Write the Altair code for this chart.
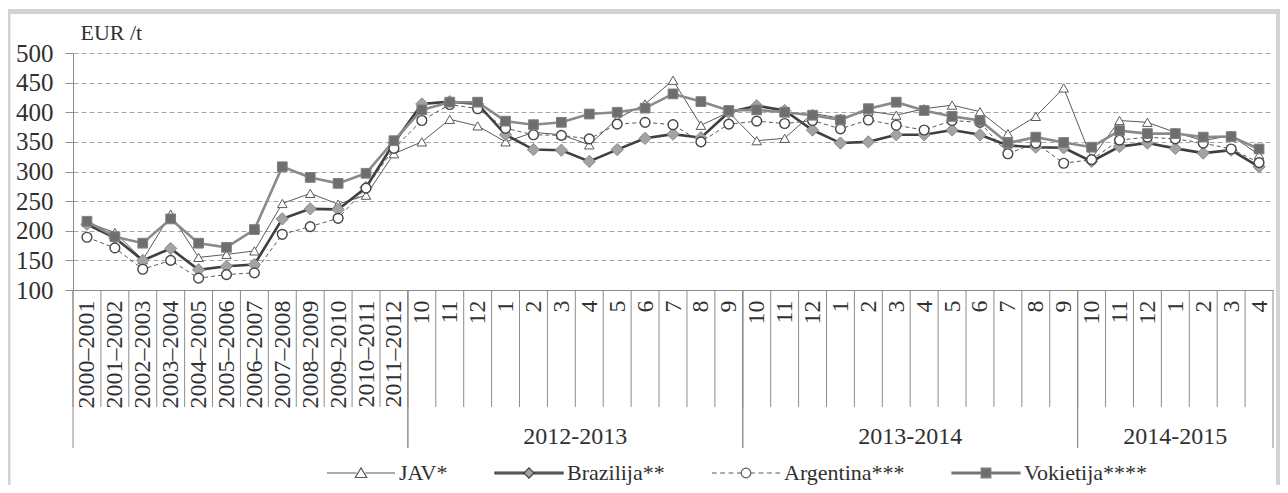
import json
import altair as alt
import pandas as pd

# ---------------- data ----------------
annual_labels = ["2000–2001", "2001–2002", "2002–2003", "2003–2004", "2004–2005", "2005–2006",
                 "2006–2007", "2007–2008", "2008–2009", "2009–2010", "2010–2011", "2011–2012"]
months_full = ["10", "11", "12", "1", "2", "3", "4", "5", "6", "7", "8", "9"]
months_part = ["10", "11", "12", "1", "2", "3", "4"]
group_names = ["", "2012-2013", "2013-2014", "2014-2015"]

period_labels = annual_labels + months_full + months_full + months_part
period_groups = ([group_names[0]] * 12 + [group_names[1]] * 12 +
                 [group_names[2]] * 12 + [group_names[3]] * 7)

series_names = ["JAV*", "Brazilija**", "Argentina***", "Vokietija****"]

jav = [214, 197, 151, 228, 155, 160, 166, 246, 263, 245, 260, 330,
       350, 388, 377, 350, 366, 362, 345, 389, 414, 454, 378, 400,
       352, 356, 398, 390, 402, 395, 406, 412, 401, 364, 393, 441,
       322, 386, 383, 366, 352, 361, 328]
brazil = [211, 188, 150, 170, 134, 140, 143, 220, 237, 236, 273, 348,
          414, 418, 414, 362, 337, 336, 317, 337, 356, 363, 357, 400,
          411, 403, 370, 348, 350, 362, 362, 370, 362, 344, 341, 340,
          317, 342, 348, 339, 331, 336, 308]
argentina = [189, 171, 135, 150, 120, 126, 129, 194, 207, 221, 272, 339,
             386, 413, 406, 373, 362, 361, 355, 380, 383, 379, 350, 380,
             385, 381, 386, 372, 387, 378, 370, 386, 383, 330, 348, 314,
             320, 353, 358, 355, 348, 338, 315]
vokietija = [216, 190, 179, 220, 179, 172, 202, 308, 290, 280, 297, 352,
             404, 417, 417, 385, 379, 383, 397, 400, 407, 431, 418, 403,
             404, 400, 395, 387, 406, 417, 403, 393, 386, 348, 358, 349,
             341, 369, 364, 364, 358, 359, 338]

values_by_series = [jav, brazil, argentina, vokietija]

rows = []
for name, vals in zip(series_names, values_by_series):
    for i, v in enumerate(vals):
        rows.append({"idx": i, "label": period_labels[i], "group": period_groups[i],
                     "series": name, "value": v})
df = pd.DataFrame(rows)

# ---------------- styling ----------------
FONT = "Liberation Serif"
TXT = "#303030"
W, H = 1200, 237
SEP_SHORT = 117
SEP_LONG = 158

label_expr = json.dumps(period_labels, ensure_ascii=False) + "[datum.value]"
x_scale = alt.Scale(domain=[-0.5, len(period_labels) - 0.5], nice=False, zero=False)
x_axis = alt.Axis(values=list(range(len(period_labels))), labelExpr=label_expr,
                  labelAngle=270, labelAlign="right", labelBaseline="middle",
                  labelPadding=10, labelFontSize=24, labelFont=FONT, labelColor=TXT,
                  labelOverlap=False, labelFlush=False, labelBound=False,
                  ticks=False, grid=False, domainColor="#8c8c8c", domainWidth=1, title=None)
y_scale = alt.Scale(domain=[100, 500], nice=False, zero=False)
y_axis = alt.Axis(values=list(range(100, 501, 50)), grid=True, gridDash=[5, 3],
                  gridColor="#a6a6a6", gridWidth=1, domainColor="#8c8c8c",
                  tickColor="#8c8c8c", tickSize=8, labelPadding=12, labelFontSize=25,
                  labelFont=FONT, labelColor=TXT, title="EUR /t", titleAngle=0,
                  titleAlign="left", titleBaseline="middle", titleX=7, titleY=-21,
                  titleFont=FONT, titleFontSize=22, titleFontWeight="normal",
                  titleColor=TXT)


def xq(field):
    return alt.X(field, type="quantitative", scale=x_scale, axis=x_axis)


yq = alt.Y("value:Q", scale=y_scale, axis=y_axis)

styles = {
    "JAV*": dict(line=dict(color="#5a5a5a", strokeWidth=1),
                 point=dict(shape="triangle-up", size=90, fill="white", stroke="#5a5a5a", strokeWidth=1)),
    "Brazilija**": dict(line=dict(color="#3f3f3f", strokeWidth=2.6),
                        point=dict(shape="diamond", size=150, fill="#a3a3a3", stroke="#8a8a8a", strokeWidth=1)),
    "Argentina***": dict(line=dict(color="#5a5a5a", strokeWidth=1, strokeDash=[4, 3]),
                         point=dict(shape="circle", size=95, fill="white", stroke="#454545", strokeWidth=1.4)),
    "Vokietija****": dict(line=dict(color="#8a8a8a", strokeWidth=2.6),
                          point=dict(shape="square", size=95, fill="#6e6e6e", stroke="#808080", strokeWidth=1)),
}

base = alt.Chart(df)
layers = []

# frame around the figure (decoration)
frame = alt.Chart(pd.DataFrame({"f": [0]})).mark_rect(
    fillOpacity=0, stroke="#d3d3d3", strokeWidth=5
).encode(x=alt.value(-65), x2=alt.value(W + 5.5), y=alt.value(-41.5), y2=alt.value(H + 400))
layers.append(frame)

# short separators between categories
sep_short = base.transform_filter(alt.datum.series == series_names[0]).transform_calculate(
    b="datum.idx - 0.5"
).mark_rule(color="#8c8c8c", strokeWidth=1).encode(
    x=xq("b"), y=alt.value(H), y2=alt.value(H + SEP_SHORT))
layers.append(sep_short)

# long separators at group edges
sep_long = base.transform_aggregate(
    lo="min(idx)", hi="max(idx)", groupby=["group"]
).transform_calculate(a="datum.lo - 0.5", b="datum.hi + 0.5").transform_fold(
    ["a", "b"], as_=["k", "edge"]
).mark_rule(color="#8c8c8c", strokeWidth=1).encode(
    x=xq("edge"), y=alt.value(H), y2=alt.value(H + SEP_LONG))
layers.append(sep_long)

# group labels
grp_text = base.transform_filter(alt.datum.group != "").transform_aggregate(
    pos="mean(idx)", groupby=["group"]
).mark_text(font=FONT, fontSize=24, color=TXT, baseline="middle", align="center").encode(
    x=xq("pos"), y=alt.value(H + 147), text="group:N")
layers.append(grp_text)

for name in series_names:
    st = styles[name]
    sub = base.transform_filter(alt.datum.series == name)
    layers.append(sub.mark_line(**st["line"]).encode(x=xq("idx"), y=yq))
for name in series_names:
    st = styles[name]
    sub = base.transform_filter(alt.datum.series == name)
    layers.append(sub.mark_point(filled=True, opacity=1, **st["point"]).encode(x=xq("idx"), y=yq))

# legend (line + marker symbols drawn as custom paths)
L = 5.67
p_tri = f"M-{L},0H-0.75M0.75,0H{L}M0,-0.85L0.95,0.75L-0.95,0.75Z"
p_dia = (f"M-{L},-0.15H-0.9V0.15H-{L}ZM0.9,-0.15H{L}V0.15H0.9Z"
         "M0,-0.85L0.85,0L0,0.85L-0.85,0Z")
p_circ = ("M-5.67,0H-4.9M-4.3,0H-3.5M-2.9,0H-2.1M-1.5,0H-0.85M0.85,0H1.5M2.1,0H2.9M3.5,0H4.3M4.9,0H5.67"
          "M0.8,0A0.8,0.8,0,1,1,-0.8,0A0.8,0.8,0,1,1,0.8,0Z")
p_sq = (f"M-{L},-0.15H-0.8V0.15H-{L}ZM0.8,-0.15H{L}V0.15H0.8Z"
        "M-0.8,-0.8H0.8V0.8H-0.8Z")

leg = alt.Legend(title=None, orient="none", legendX=277, legendY=409, direction="horizontal",
                 columns=4, symbolSize=144, symbolStrokeWidth=1.2, symbolOpacity=1,
                 labelOffset=27, columnPadding=44, labelFont=FONT, labelFontSize=22,
                 labelColor=TXT, labelLimit=0, padding=0)
legend_layer = base.transform_filter("false").mark_point(filled=True).encode(
    shape=alt.Shape("series:N", scale=alt.Scale(domain=series_names, range=[p_tri, p_dia, p_circ, p_sq]), legend=leg),
    fill=alt.Fill("series:N", scale=alt.Scale(domain=series_names, range=["white", "#a3a3a3", "white", "#6e6e6e"]), legend=leg),
    stroke=alt.Stroke("series:N", scale=alt.Scale(domain=series_names, range=["#5a5a5a", "#3f3f3f", "#5a5a5a", "#7a7a7a"]), legend=leg),
)
layers.append(legend_layer)

chart = alt.layer(*layers).properties(
    width=W, height=H,
    autosize=alt.AutoSizeParams(type="none"),
    padding={"left": 65, "top": 45, "right": 7, "bottom": 195},
    background="white",
).configure_view(stroke=None)

chart.save("out.html", embed_options={"renderer": "svg", "actions": False})
